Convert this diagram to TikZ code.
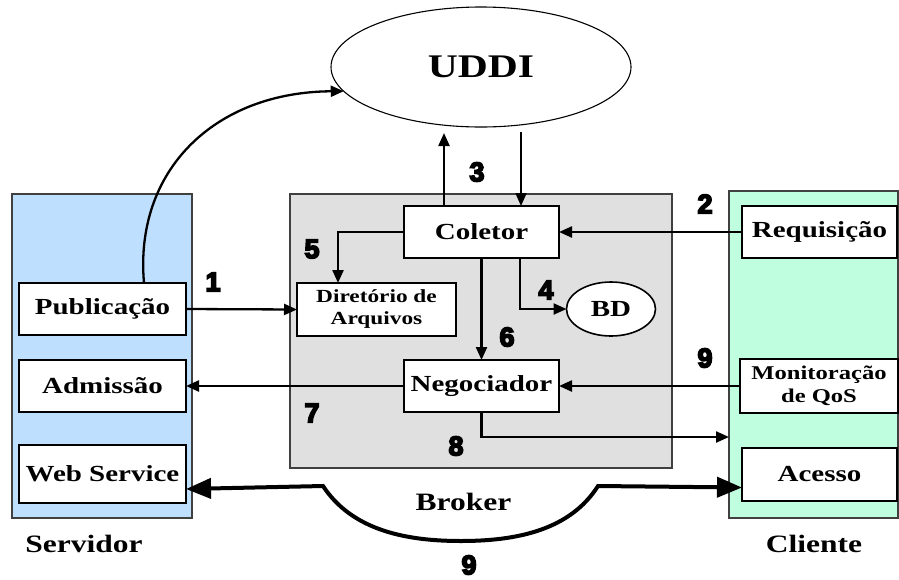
\documentclass[tikz,border=0pt]{standalone}
\usepackage{fontspec}
\setmainfont{Liberation Serif}[FakeStretch=1.26]
\newfontfamily\numfont{Liberation Sans}[FakeBold=6]
\usetikzlibrary{arrows.meta,shapes.geometric,calc}
\definecolor{servbg}{RGB}{191,223,255}
\definecolor{clibg}{RGB}{191,255,223}
\definecolor{brokerbg}{RGB}{224,224,224}
\begin{document}
\begin{tikzpicture}[x=1pt,y=-1pt,
  panel/.style={draw=black!75,line width=1.1pt,inner sep=0pt,outer sep=0pt},
  box/.style={draw=black,fill=white,line width=1.6pt,inner sep=0pt,outer sep=0pt,align=center,
    font=\bfseries\fontsize{23}{25}\selectfont},
  arr/.style={line width=2.3pt,-{Triangle[length=13pt,width=11pt]}},
  big/.style={line width=4pt,{Triangle[length=25pt,width=20pt]}-{Triangle[length=25pt,width=20pt]}},
  num/.style={font=\numfont\bfseries\fontsize{27}{27}\selectfont,inner sep=0pt},
  lbl/.style={font=\bfseries\fontsize{25}{27}\selectfont,inner sep=0pt}]
\useasboundingbox (0,0) rectangle (899,579);

% side panels and broker area
\node[panel,fill=servbg,minimum width=180pt,minimum height=324pt] (serv) at (102,356) {};
\node[panel,fill=brokerbg,minimum width=382pt,minimum height=274pt] (broker) at (481,331) {};
\node[panel,fill=clibg,minimum width=169pt,minimum height=327pt] (cli) at (813.5,354.5) {};

% registry
\node[draw=black,line width=1.1pt,fill=white,ellipse,minimum width=300pt,minimum height=120pt,
  inner sep=0pt,outer sep=0pt,font=\bfseries\fontsize{33}{35}\selectfont] (uddi) at (481,67) {UDDI};

% server side
\node[box,minimum width=167pt,minimum height=52pt] (pub) at (102.5,309) {Publicação};
\node[box,minimum width=167pt,minimum height=52pt] (adm) at (102.5,386) {Admissão};
\node[box,minimum width=167pt,minimum height=58pt] (ws) at (102.5,474) {Web Service};

% broker components
\node[box,minimum width=155pt,minimum height=52pt] (col) at (481.5,232) {Coletor};
\node[box,minimum width=159pt,minimum height=53pt,font=\bfseries\fontsize{18.5}{22}\selectfont] (dir) at (376.5,309.5) {Diretório de\\Arquivos};
\node[box,minimum width=155pt,minimum height=52pt] (neg) at (481.5,386) {Negociador};
\node[box,ellipse,minimum width=89pt,minimum height=54pt] (bd) at (611,309) {BD};

% client side
\node[box,minimum width=155pt,minimum height=52pt] (req) at (819.5,232) {Requisição};
\node[box,minimum width=158pt,minimum height=54pt,font=\bfseries\fontsize{19.5}{23}\selectfont] (mon) at (819,386) {Monitoração\\de QoS};
\node[box,minimum width=155pt,minimum height=53pt] (acc) at (819.5,474.5) {Acesso};

% free ends of the UDDI links
\coordinate (up3) at (444,133);
\coordinate (dn3) at (521,132);
\coordinate (b1) at (323,486);
\coordinate (b2) at (598,486);

% connectors
\draw[arr] ($(pub.north)+(41.5,0)$) .. controls (134,170) and (215,92) .. (uddi.190);
\draw[arr] ($(col.north)+(-37.5,0)$) -- (up3);
\draw[arr,line width=1.8pt] (dn3) -- ($(col.north)+(39.5,0)$);
\draw[arr] (pub.east) -- (dir.west);
\draw[arr] (req.west) -- (col.east);
\draw[arr] ($(col.south)+(38.5,0)$) |- (bd.west);
\draw[arr] (col.west) -| ($(dir.north)+(-38.5,0)$);
\draw[arr] (col.south) -- (neg.north);
\draw[arr] (neg.west) -- (adm.east);
\draw[arr] (neg.south) |- ($(cli.west)+(0,82.5)$);
\draw[arr] (mon.west) -- (neg.east);
\draw[big] ($(ws.east)+(0,15)$) -- (b1) .. controls (352,530) and (405,541) .. (461,541)
  .. controls (517,541) and (570,530) .. (b2) -- ($(acc.west)+(0,13)$);

% step numbers
\node[num] (n1) at (213,282) {1};
\node[num] (n2) at (705,204) {2};
\node[num] (n3) at (477,172) {3};
\node[num] (n4) at (546,290) {4};
\node[num] (n5) at (312,249) {5};
\node[num] (n6) at (507,337) {6};
\node[num] (n7) at (312,413) {7};
\node[num] (n8) at (456,446) {8};
\node[num] (n9a) at (705,358) {9};
\node[num] (n9b) at (469,565) {9};

% area captions
\node[lbl] (lserv) at (84,544) {Servidor};
\node[lbl] (lbrk) at (463.5,502) {Broker};
\node[lbl] (lcli) at (814,544) {Cliente};
\end{tikzpicture}
\end{document}
